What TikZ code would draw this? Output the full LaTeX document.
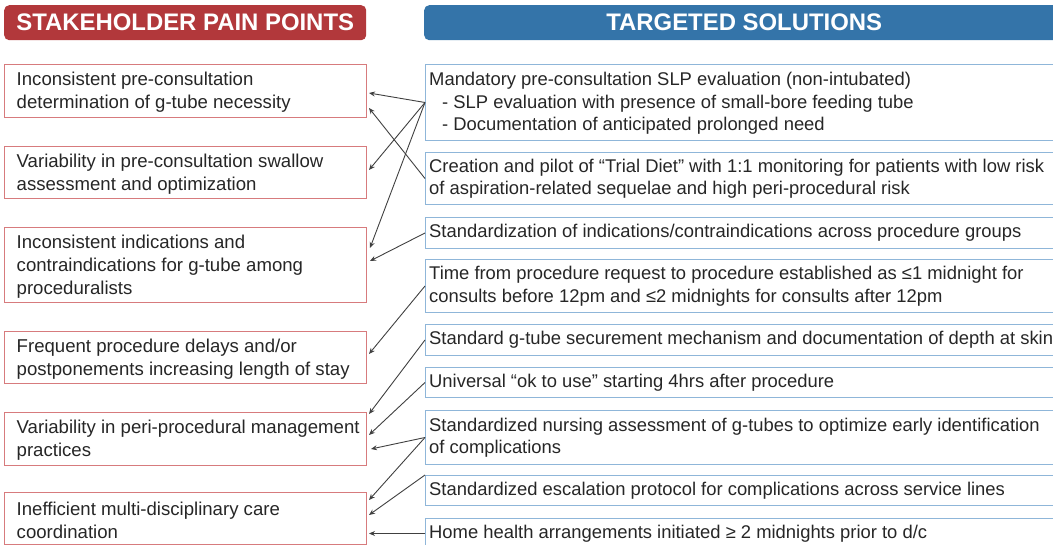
\documentclass[tikz,border=0pt]{standalone}
\usepackage{fontspec}
\setmainfont{Liberation Sans}
\usetikzlibrary{arrows.meta}
\definecolor{hdrred}{HTML}{B2383B}
\definecolor{hdrblue}{HTML}{3474A9}
\definecolor{painline}{HTML}{D77B7D}
\definecolor{solline}{HTML}{8FB6D9}
\definecolor{txt}{HTML}{262626}
\definecolor{linkc}{HTML}{404040}

\begin{document}
\begin{tikzpicture}[x=1pt,y=-1pt,
  header/.style={rounded corners=5pt, minimum height=35pt, inner sep=0pt,
    anchor=north west, text=white, font=\fontsize{23.9}{26}\selectfont\bfseries},
  painbox/.style={draw=painline, line width=1pt, minimum width=362pt,
    anchor=north west, inner sep=0pt},
  solbox/.style={draw=solline, line width=1pt, minimum width=640pt,
    anchor=north west, inner sep=0pt},
  paintext/.style={anchor=west, inner sep=0pt, align=left, text=txt,
    font=\fontsize{18.6}{23}\selectfont},
  soltext/.style={anchor=west, inner sep=0pt, align=left, text=txt,
    font=\fontsize{18.4}{22.5}\selectfont},
  link/.style={draw=linkc, line width=0.9pt, -{Stealth[length=6pt,width=5pt]}},
]
\useasboundingbox (0,0) rectangle (1053,545);
\clip (0,0) rectangle (1053,545);

% column headers
\node[header, fill=hdrred, minimum width=362pt] (hp) at (4,5) {STAKEHOLDER PAIN POINTS};
\node[header, fill=hdrblue, minimum width=640pt] (hs) at (424,5) {TARGETED SOLUTIONS};

% pain points
\node[painbox, minimum height=53pt] (p1) at (4,64) {};
\node[painbox, minimum height=52pt] (p2) at (4,146) {};
\node[painbox, minimum height=75pt] (p3) at (4,227) {};
\node[painbox, minimum height=52pt] (p4) at (4,331) {};
\node[painbox, minimum height=53pt] (p5) at (4,412) {};
\node[painbox, minimum height=52pt] (p6) at (4,492) {};

\node[paintext] (p1t) at ([xshift=12.5pt,yshift=-1.5pt]p1.west) {Inconsistent pre-consultation\\determination of g-tube necessity};
\node[paintext] (p2t) at ([xshift=12.5pt,yshift=-1.5pt]p2.west) {Variability in pre-consultation swallow\\assessment and optimization};
\node[paintext] (p3t) at ([xshift=12.5pt,yshift=-1.5pt]p3.west) {Inconsistent indications and\\contraindications for g-tube among\\proceduralists};
\node[paintext] (p4t) at ([xshift=12.5pt,yshift=-1.5pt]p4.west) {Frequent procedure delays and/or\\postponements increasing length of stay};
\node[paintext] (p5t) at ([xshift=12.5pt,yshift=-1.5pt]p5.west) {Variability in peri-procedural management\\practices};
\node[paintext] (p6t) at ([xshift=12.5pt,yshift=-1.5pt]p6.west) {Inefficient multi-disciplinary care\\coordination};

% solutions
\node[solbox, minimum height=76pt] (s1) at (425,64) {};
\node[solbox, minimum height=52pt] (s2) at (425,152) {};
\node[solbox, minimum height=31pt] (s3) at (425,217) {};
\node[solbox, minimum height=53pt] (s4) at (425,259) {};
\node[solbox, minimum height=31pt] (s5) at (425,324) {};
\node[solbox, minimum height=30pt] (s6) at (425,367) {};
\node[solbox, minimum height=54pt] (s7) at (425,410) {};
\node[solbox, minimum height=30pt] (s8) at (425,475) {};
\node[solbox, minimum height=30pt] (s9) at (425,518) {};

\node[soltext] (s1t) at ([xshift=4pt,yshift=-1pt]s1.west) {Mandatory pre-consultation SLP evaluation (non-intubated)\\
  \hspace*{13pt}- SLP evaluation with presence of small-bore feeding tube\\
  \hspace*{13pt}- Documentation of anticipated prolonged need};
\node[soltext] (s2t) at ([xshift=4pt]s2.west) {Creation and pilot of “Trial Diet” with 1:1 monitoring for patients with low risk\\of aspiration-related sequelae and high peri-procedural risk};
\node[soltext] (s3t) at ([xshift=4pt]s3.west) {Standardization of indications/contraindications across procedure groups};
\node[soltext] (s4t) at ([xshift=4pt]s4.west) {Time from procedure request to procedure established as ≤1 midnight for\\consults before 12pm and ≤2 midnights for consults after 12pm};
\node[soltext] (s5t) at ([xshift=4pt]s5.west) {Standard g-tube securement mechanism and documentation of depth at skin};
\node[soltext] (s6t) at ([xshift=4pt]s6.west) {Universal “ok to use” starting 4hrs after procedure};
\node[soltext] (s7t) at ([xshift=4pt]s7.west) {Standardized nursing assessment of g-tubes to optimize early identification\\of complications};
\node[soltext] (s8t) at ([xshift=4pt]s8.west) {Standardized escalation protocol for complications across service lines};
\node[soltext] (s9t) at ([xshift=4pt]s9.west) {Home health arrangements initiated ≥ 2 midnights prior to d/c};

% links from solutions to the pain points they address
\draw[link] (s1.west) -- ([shift={(2,29)}]p1.north east);
\draw[link] (s1.west) -- ([shift={(2,24)}]p2.north east);
\draw[link] (s1.west) -- ([shift={(3,21)}]p3.north east);
\draw[link] (s2.west) -- ([shift={(2,44)}]p1.north east);
\draw[link] (s3.west) -- ([shift={(3,34)}]p3.north east);
\draw[link] (s4.west) -- ([shift={(2,23)}]p4.north east);
\draw[link] (s5.west) -- ([shift={(2,2)}]p5.north east);
\draw[link] (s6.west) -- ([shift={(2,23)}]p5.north east);
\draw[link] (s7.west) -- ([shift={(4,37)}]p5.north east);
\draw[link] (s7.west) -- ([shift={(2,8)}]p6.north east);
\draw[link] (s8.north west) -- ([shift={(2,23)}]p6.north east);
\draw[link] (s9.west) -- ([xshift=2pt]s9.west -| p6.east);
\end{tikzpicture}
\end{document}
